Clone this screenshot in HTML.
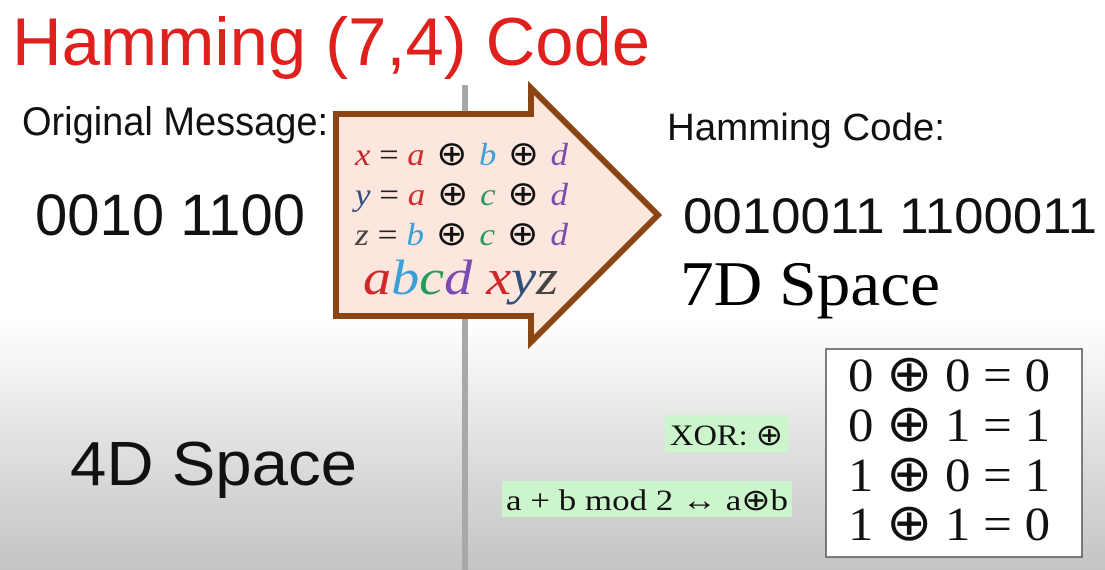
<!DOCTYPE html>
<html><head><meta charset="utf-8"><style>
html,body{margin:0;padding:0}
body{width:1105px;height:570px;overflow:hidden;background:linear-gradient(to bottom,#fff 0,#fff 320px,#f0f0f0 380px,#d8d8d8 480px,#c4c4c4 570px)}
</style></head><body>
<svg width="1105" height="570" xmlns="http://www.w3.org/2000/svg" style="position:absolute;left:0;top:0">
<rect x="462" y="85" width="6" height="485" fill="#a8a8a8"/>
<polygon points="336,114 531,114 531,88 658,215 531,342 531,316 336,316" fill="#fde6de" stroke="#8b4513" stroke-width="6" stroke-linejoin="miter"/>
<text x="12" y="65" font-family="Liberation Sans, sans-serif" font-size="68" fill="#e0201c" textLength="638" lengthAdjust="spacingAndGlyphs">Hamming (7,4) Code</text>
<text x="22" y="135" font-family="Liberation Sans, sans-serif" font-size="40" fill="#111" textLength="306" lengthAdjust="spacingAndGlyphs">Original Message:</text>
<text x="35" y="235" font-family="Liberation Sans, sans-serif" font-size="58" fill="#111" textLength="270" lengthAdjust="spacingAndGlyphs">0010 1100</text>
<text x="667" y="140" font-family="Liberation Sans, sans-serif" font-size="38" fill="#111" textLength="278" lengthAdjust="spacingAndGlyphs">Hamming Code:</text>
<text x="683" y="233" font-family="Liberation Sans, sans-serif" font-size="50" fill="#111" textLength="414" lengthAdjust="spacingAndGlyphs">0010011 1100011</text>
<text x="680" y="305" font-family="Liberation Serif, serif" font-size="64" fill="#000" textLength="260" lengthAdjust="spacingAndGlyphs">7D Space</text>
<text x="70" y="485" font-family="Liberation Sans, sans-serif" font-size="62" fill="#111" textLength="287" lengthAdjust="spacingAndGlyphs">4D Space</text>
<g font-family="Liberation Serif, serif" font-size="32" font-style="italic">
<text x="355" y="165" textLength="213" lengthAdjust="spacingAndGlyphs"><tspan fill="#c0282c">x</tspan><tspan fill="#222" font-style="normal"> = </tspan><tspan fill="#d03030">a</tspan><tspan fill="#111" font-style="normal" font-family="DejaVu Sans, sans-serif" font-size="34"> ⊕ </tspan><tspan fill="#3aa0d8">b</tspan><tspan fill="#111" font-style="normal" font-family="DejaVu Sans, sans-serif" font-size="34"> ⊕ </tspan><tspan fill="#7a4cb0">d</tspan></text>
<text x="355" y="205" textLength="213" lengthAdjust="spacingAndGlyphs"><tspan fill="#30507a">y</tspan><tspan fill="#222" font-style="normal"> = </tspan><tspan fill="#d03030">a</tspan><tspan fill="#111" font-style="normal" font-family="DejaVu Sans, sans-serif" font-size="34"> ⊕ </tspan><tspan fill="#2a9a5a">c</tspan><tspan fill="#111" font-style="normal" font-family="DejaVu Sans, sans-serif" font-size="34"> ⊕ </tspan><tspan fill="#7a4cb0">d</tspan></text>
<text x="355" y="245" textLength="213" lengthAdjust="spacingAndGlyphs"><tspan fill="#444">z</tspan><tspan fill="#222" font-style="normal"> = </tspan><tspan fill="#3aa0d8">b</tspan><tspan fill="#111" font-style="normal" font-family="DejaVu Sans, sans-serif" font-size="34"> ⊕ </tspan><tspan fill="#2a9a5a">c</tspan><tspan fill="#111" font-style="normal" font-family="DejaVu Sans, sans-serif" font-size="34"> ⊕ </tspan><tspan fill="#7a4cb0">d</tspan></text>
<text x="363" y="294" font-size="50" textLength="195" lengthAdjust="spacingAndGlyphs"><tspan fill="#d02828">a</tspan><tspan fill="#3aa0d8">b</tspan><tspan fill="#2a9a5a">c</tspan><tspan fill="#7a4cb0">d</tspan><tspan>  </tspan><tspan fill="#d02828">x</tspan><tspan fill="#30507a">y</tspan><tspan fill="#444">z</tspan></text>
</g>
<rect x="665" y="415" width="123" height="37" fill="#ccf5cc"/>
<text x="670" y="445" font-family="Liberation Serif, serif" font-size="30" fill="#111" textLength="113" lengthAdjust="spacingAndGlyphs">XOR: <tspan font-family="DejaVu Sans, sans-serif">⊕</tspan></text>
<rect x="502" y="481" width="290" height="36" fill="#ccf5cc"/>
<text x="506" y="510" font-family="Liberation Serif, serif" font-size="30" fill="#111" textLength="282" lengthAdjust="spacingAndGlyphs">a + b mod 2 ↔ a<tspan font-family="DejaVu Sans, sans-serif">⊕</tspan>b</text>
<rect x="826" y="349" width="256" height="208" fill="#fff" stroke="#555" stroke-width="1.5"/>
<g font-family="Liberation Serif, serif" font-size="48" fill="#111">
<text x="848" y="391" textLength="202" lengthAdjust="spacingAndGlyphs">0 <tspan font-family="DejaVu Sans, sans-serif" font-size="52">⊕</tspan> 0 = 0</text>
<text x="848" y="441" textLength="202" lengthAdjust="spacingAndGlyphs">0 <tspan font-family="DejaVu Sans, sans-serif" font-size="52">⊕</tspan> 1 = 1</text>
<text x="848" y="491" textLength="202" lengthAdjust="spacingAndGlyphs">1 <tspan font-family="DejaVu Sans, sans-serif" font-size="52">⊕</tspan> 0 = 1</text>
<text x="848" y="540" textLength="202" lengthAdjust="spacingAndGlyphs">1 <tspan font-family="DejaVu Sans, sans-serif" font-size="52">⊕</tspan> 1 = 0</text>
</g>
</svg>
</body></html>
